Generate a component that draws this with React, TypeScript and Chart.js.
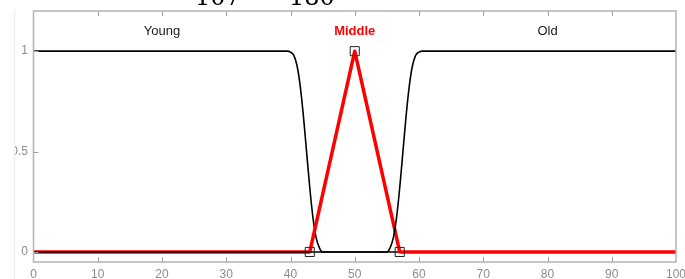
import React, { useEffect, useRef } from "react";
import { Chart, registerables } from "chart.js";

Chart.register(...registerables);

// ---- data ----
const youngX = [0, 39.5, 40, 40.5, 41, 41.5, 42, 42.5, 43, 43.5, 44, 44.5, 45, 100];
const youngY = [1, 1, 0.995, 0.98, 0.93, 0.83, 0.68, 0.5, 0.32, 0.17, 0.07, 0.02, 0, 0];

const middleX = [0, 43, 50, 57, 100];
const middleY = [0, 0, 1, 0, 0];

const oldX = [0, 55, 55.5, 56, 56.5, 57, 57.5, 58, 58.5, 59, 59.5, 60, 60.5, 100];
const oldY = [0, 0, 0.02, 0.07, 0.17, 0.32, 0.5, 0.68, 0.83, 0.93, 0.98, 0.995, 1, 1];

const markerX = [43, 50, 57];
const markerY = [0, 1, 0];

const regionNames = ["Young", "Middle", "Old"];
const regionX = [20, 50, 80];
const regionY = [1.1, 1.1, 1.1];
const regionColors = ["#1a1a1a", "#ff0000", "#1a1a1a"];
const regionBold = [false, true, false];

const xTickValues = [0, 10, 20, 30, 40, 50, 60, 70, 80, 90, 100];
const xTickLabels = ["0", "10", "20", "30", "40", "50", "60", "70", "80", "90", "100"];
const yTickValues = [0, 0.5, 1];
const yTickLabels = ["0", "0.5", "1"];

const titleFragments = ["107", "180"];

const toPts = (xs: number[], ys: number[]) => xs.map((x, i) => ({ x, y: ys[i] }));

const decorPlugin = {
  id: "decor",
  afterDraw(chart: any) {
    const { ctx, chartArea } = chart;
    const xs = chart.scales.x;
    const ys = chart.scales.y;
    const { left, right, top, bottom } = chartArea;
    ctx.save();

    // axes box
    ctx.strokeStyle = "#b4b4b4";
    ctx.lineWidth = 1.5;
    ctx.strokeRect(left, top, right - left, bottom - top);

    // inward ticks
    ctx.strokeStyle = "#a0a0a0";
    ctx.lineWidth = 1;
    ctx.beginPath();
    xTickValues.forEach((v) => {
      const px = Math.round(xs.getPixelForValue(v)) + 0.5;
      if (v > 0 && v < 100) {
        ctx.moveTo(px, bottom);
        ctx.lineTo(px, bottom - 5);
        ctx.moveTo(px, top);
        ctx.lineTo(px, top + 5);
      }
    });
    yTickValues.forEach((v) => {
      const py = Math.round(ys.getPixelForValue(v)) + 0.5;
      ctx.moveTo(left, py);
      ctx.lineTo(left + 5, py);
    });
    ctx.stroke();

    // tick labels
    ctx.fillStyle = "#8c8c8c";
    ctx.font = "12px 'Liberation Sans', Arial, sans-serif";
    ctx.textAlign = "center";
    ctx.textBaseline = "alphabetic";
    xTickValues.forEach((v, i) => {
      ctx.fillText(xTickLabels[i], xs.getPixelForValue(v), 278);
    });
    ctx.textAlign = "right";
    ctx.textBaseline = "middle";
    yTickValues.forEach((v, i) => {
      ctx.fillText(yTickLabels[i], 28, ys.getPixelForValue(v));
    });

    // the figure is cropped at the left: blank strip + faint frame
    ctx.fillStyle = "#ffffff";
    ctx.fillRect(0, 0, 14, 279);
    ctx.strokeStyle = "#ececec";
    ctx.lineWidth = 1;
    ctx.beginPath();
    ctx.moveTo(14.5, 10);
    ctx.lineTo(14.5, 279);
    ctx.stroke();

    // region labels
    ctx.textAlign = "center";
    ctx.textBaseline = "middle";
    regionNames.forEach((name, i) => {
      ctx.fillStyle = regionColors[i];
      ctx.font = (regionBold[i] ? "bold " : "") + "13px 'Liberation Sans', Arial, sans-serif";
      ctx.fillText(name, xs.getPixelForValue(regionX[i]), ys.getPixelForValue(regionY[i]));
    });

    // cropped title fragments at the very top
    ctx.fillStyle = "#000";
    ctx.font = "24px 'DejaVu Serif', serif";
    ctx.textAlign = "left";
    ctx.textBaseline = "alphabetic";
    ctx.fillText(titleFragments[0], 195, 5);
    ctx.fillText(titleFragments[1], 289, 5);

    ctx.restore();
  },
};

export default function App() {
  const ref = useRef<HTMLCanvasElement | null>(null);

  useEffect(() => {
    if (!ref.current) return;
    const chart = new Chart(ref.current, {
      type: "line",
      data: {
        datasets: [
          {
            label: "markers",
            data: toPts(markerX, markerY),
            showLine: false,
            pointStyle: "rect",
            pointRadius: 6.4,
            pointBackgroundColor: "rgba(0,0,0,0)",
            pointBorderColor: "#222",
            pointBorderWidth: 1,
          },
          {
            label: "Old",
            data: toPts(oldX, oldY),
            borderColor: "#000",
            borderWidth: 1.6,
            pointRadius: 0,
            cubicInterpolationMode: "monotone",
            fill: false,
          },
          {
            label: "Middle",
            data: toPts(middleX, middleY),
            borderColor: "#ff0000",
            borderWidth: 3.5,
            pointRadius: 0,
            tension: 0,
            fill: false,
            borderJoinStyle: "round",
          },
          {
            label: "Young",
            data: toPts(youngX, youngY),
            borderColor: "#000",
            borderWidth: 1.6,
            pointRadius: 0,
            cubicInterpolationMode: "monotone",
            fill: false,
          },
        ],
      },
      options: {
        animation: false,
        responsive: false,
        devicePixelRatio: 1,
        layout: { padding: { left: 33.5, top: 11, right: 9, bottom: 17 } },
        plugins: { legend: { display: false }, tooltip: { enabled: false } },
        scales: {
          x: { type: "linear", min: 0, max: 100, display: false },
          y: { type: "linear", min: -0.05, max: 1.2, display: false },
        },
      },
      plugins: [decorPlugin],
    });
    return () => chart.destroy();
  }, []);

  return (
    <div style={{ position: "absolute", left: 0, top: 0, width: 685, height: 279, background: "#fff" }}>
      <canvas ref={ref} width={685} height={279} />
    </div>
  );
}
